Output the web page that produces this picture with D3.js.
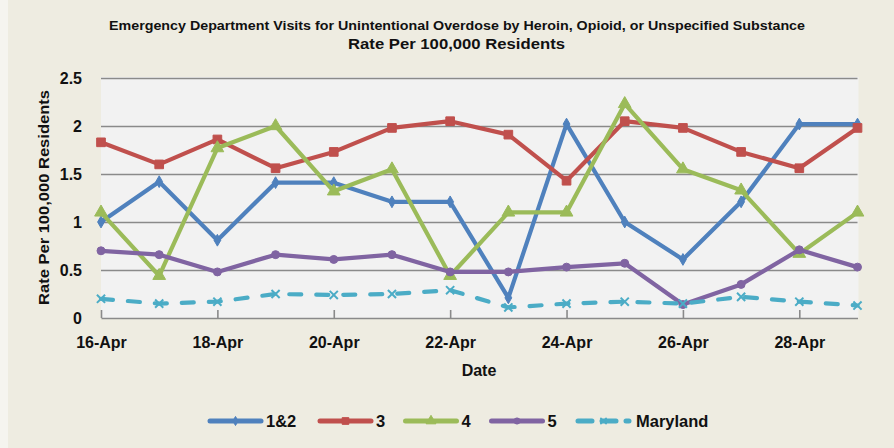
<!DOCTYPE html>
<html>
<head>
<meta charset="utf-8">
<script src="https://cdn.jsdelivr.net/npm/d3@7"></script>
<style>
  html, body { margin: 0; padding: 0; background: #eeece1; }
  svg { display: block; }
  text { font-family: "Liberation Sans", Arial, sans-serif; fill: #111; }
</style>
</head>
<body>
<svg id="chart" width="894" height="448"></svg>
<script>
// ---- data ----
const dates = ["16-Apr","17-Apr","18-Apr","19-Apr","20-Apr","21-Apr","22-Apr","23-Apr","24-Apr","25-Apr","26-Apr","27-Apr","28-Apr","29-Apr"];
const tickDates = ["16-Apr","18-Apr","20-Apr","22-Apr","24-Apr","26-Apr","28-Apr"];
const yTicks = [0, 0.5, 1, 1.5, 2, 2.5];
const seriesNames = ["1&2", "3", "4", "5", "Maryland"];
const region12 = [1.00, 1.42, 0.81, 1.41, 1.41, 1.21, 1.21, 0.21, 2.02, 1.00, 0.61, 1.21, 2.02, 2.02];
const region3  = [1.83, 1.60, 1.86, 1.56, 1.73, 1.98, 2.05, 1.91, 1.43, 2.05, 1.98, 1.73, 1.56, 1.98];
const region4  = [1.10, 0.44, 1.77, 2.00, 1.32, 1.55, 0.44, 1.10, 1.10, 2.23, 1.55, 1.33, 0.67, 1.10];
const region5  = [0.70, 0.66, 0.48, 0.66, 0.61, 0.66, 0.48, 0.48, 0.53, 0.57, 0.14, 0.35, 0.71, 0.53];
const maryland = [0.20, 0.15, 0.17, 0.25, 0.24, 0.25, 0.29, 0.11, 0.15, 0.17, 0.15, 0.22, 0.17, 0.13];
const titleLine1 = "Emergency Department Visits for Unintentional Overdose by Heroin, Opioid, or Unspecified Substance";
const titleLine2 = "Rate Per 100,000 Residents";
const xTitle = "Date";
const yTitle = "Rate Per 100,000 Residents";

// ---- styles ----
const colors = ["#4f81bd", "#c0504d", "#9bbb59", "#8064a2", "#4bacc6"];
const values = [region12, region3, region4, region5, maryland];
const symbols = [d3.symbolDiamond, d3.symbolSquare, d3.symbolTriangle, d3.symbolCircle, d3.symbolX];
const symSizes = [40, 75, 70, 50, 45];

const svg = d3.select("#chart");
const L = 101, R = 857.5, T = 78, B = 318;

// left light strip
svg.append("rect").attr("x", 0).attr("y", 0).attr("width", 8).attr("height", 448).attr("fill", "#f5f4ef");

// plot area
svg.append("rect").attr("x", L).attr("y", T - 1).attr("width", R - L + 1).attr("height", B - T + 1).attr("fill", "#f2f2f2");

const x = d3.scalePoint().domain(dates).range([L, R]).padding(0);
const y = d3.scaleLinear().domain([0, 2.5]).range([B, T]);

// y axis + gridlines
const yAxis = svg.append("g").attr("transform", `translate(${L},0)`)
  .call(d3.axisLeft(y).tickValues(yTicks).tickSize(-(R - L)).tickPadding(19).tickFormat(d3.format("")));
yAxis.select(".domain").remove();
yAxis.selectAll(".tick line").attr("stroke", "#8a8a8a").attr("stroke-width", 1.6)
  .filter(d => d === 0).remove();
yAxis.selectAll(".tick text").attr("font-size", 16).attr("font-weight", "bold").attr("fill", "#1a1a1a").attr("dy", "0.35em");

// x axis
const xAxis = svg.append("g").attr("transform", `translate(0,${B})`)
  .call(d3.axisBottom(x).tickValues(tickDates).tickSize(-8).tickSizeOuter(0).tickPadding(19));
xAxis.select(".domain").attr("stroke", "#8a8a8a").attr("stroke-width", 1.6);
xAxis.selectAll(".tick line").attr("stroke", "#8a8a8a").attr("stroke-width", 1.6);
xAxis.selectAll(".tick text").attr("font-size", 16).attr("font-weight", "bold").attr("fill", "#1a1a1a");

// lines
const line = d3.line().x((d, i) => x(dates[i])).y(d => y(d));
values.forEach((vals, s) => {
  const g = svg.append("g");
  g.append("path").datum(vals).attr("d", line).attr("fill", "none")
    .attr("stroke", colors[s]).attr("stroke-width", 4.2)
    .attr("stroke-linejoin", "round").attr("stroke-linecap", "round")
    .attr("stroke-dasharray", s === 4 ? "12,15" : null);
  const sym = d3.symbol().type(symbols[s]).size(symSizes[s]);
  g.selectAll("path.m").data(vals).enter().append("path").attr("class", "m")
    .attr("transform", (d, i) => `translate(${x(dates[i])},${y(d)})`)
    .attr("d", sym)
    .attr("fill", s === 4 ? "none" : colors[s])
    .attr("stroke", colors[s]).attr("stroke-width", s === 4 ? 2 : 1);
});

// titles
svg.append("text").attr("x", 457).attr("y", 30).attr("text-anchor", "middle")
  .attr("font-size", 12.5).attr("font-weight", "bold")
  .attr("textLength", 696).attr("lengthAdjust", "spacingAndGlyphs").text(titleLine1);
svg.append("text").attr("x", 456.5).attr("y", 49).attr("text-anchor", "middle")
  .attr("font-size", 15.5).attr("font-weight", "bold")
  .attr("textLength", 217).attr("lengthAdjust", "spacingAndGlyphs").text(titleLine2);
svg.append("text").attr("x", 479).attr("y", 376).attr("text-anchor", "middle")
  .attr("font-size", 16).attr("font-weight", "bold").text(xTitle);
svg.append("text").attr("transform", "translate(49,197.5) rotate(-90)").attr("text-anchor", "middle")
  .attr("font-size", 15.5).attr("font-weight", "bold")
  .attr("textLength", 215).attr("lengthAdjust", "spacingAndGlyphs").text(yTitle);

// legend
const legendX = [208, 318, 403.5, 489.5, 576];
const legendY = 421;
seriesNames.forEach((name, s) => {
  const g = svg.append("g").attr("transform", `translate(${legendX[s]},${legendY})`);
  g.append("line").attr("x1", 2).attr("x2", 53).attr("y1", 0).attr("y2", 0)
    .attr("stroke", colors[s]).attr("stroke-width", 5).attr("stroke-linecap", "round")
    .attr("stroke-dasharray", s === 4 ? "14,10" : null);
  g.append("path").attr("transform", "translate(27.5,0)")
    .attr("d", d3.symbol().type(symbols[s]).size(symSizes[s] * 0.6))
    .attr("fill", s === 4 ? "none" : colors[s]).attr("stroke", colors[s]).attr("stroke-width", s === 4 ? 1.6 : 1);
  g.append("text").attr("x", s === 4 ? 60 : 58).attr("y", 0).attr("dy", "0.36em")
    .attr("font-size", 16.5).attr("font-weight", "bold").text(name);
});
</script>
</body>
</html>
